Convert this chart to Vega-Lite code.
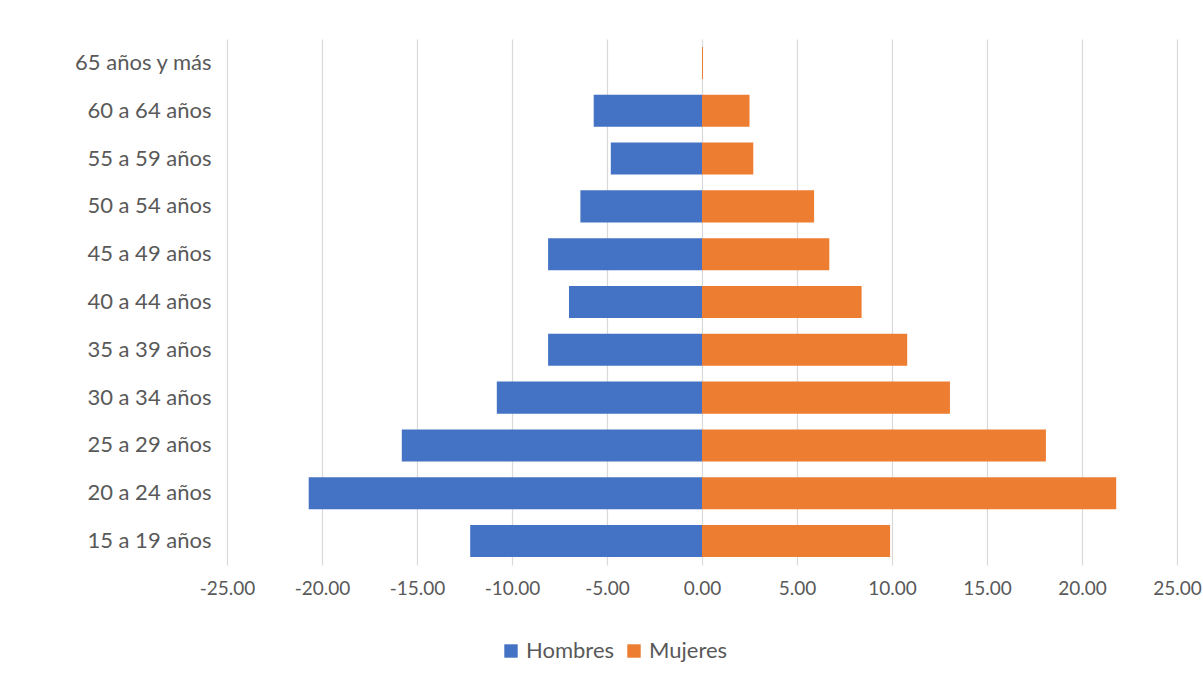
{
  "$schema": "https://vega.github.io/schema/vega-lite/v6.json",
  "width": 950,
  "height": 526,
  "autosize": {"type": "none"},
  "padding": {"left": 227, "top": 39, "right": 26, "bottom": 116},
  "background": "white",
  "data": {
    "values": [
      {"edad": "65 años y más", "sexo": "Hombres", "valor": 0},
      {"edad": "65 años y más", "sexo": "Mujeres", "valor": 0.05},
      {"edad": "60 a 64 años", "sexo": "Hombres", "valor": -5.7},
      {"edad": "60 a 64 años", "sexo": "Mujeres", "valor": 2.5},
      {"edad": "55 a 59 años", "sexo": "Hombres", "valor": -4.8},
      {"edad": "55 a 59 años", "sexo": "Mujeres", "valor": 2.7},
      {"edad": "50 a 54 años", "sexo": "Hombres", "valor": -6.4},
      {"edad": "50 a 54 años", "sexo": "Mujeres", "valor": 5.9},
      {"edad": "45 a 49 años", "sexo": "Hombres", "valor": -8.1},
      {"edad": "45 a 49 años", "sexo": "Mujeres", "valor": 6.7},
      {"edad": "40 a 44 años", "sexo": "Hombres", "valor": -7.0},
      {"edad": "40 a 44 años", "sexo": "Mujeres", "valor": 8.4},
      {"edad": "35 a 39 años", "sexo": "Hombres", "valor": -8.1},
      {"edad": "35 a 39 años", "sexo": "Mujeres", "valor": 10.8},
      {"edad": "30 a 34 años", "sexo": "Hombres", "valor": -10.8},
      {"edad": "30 a 34 años", "sexo": "Mujeres", "valor": 13.05},
      {"edad": "25 a 29 años", "sexo": "Hombres", "valor": -15.8},
      {"edad": "25 a 29 años", "sexo": "Mujeres", "valor": 18.1},
      {"edad": "20 a 24 años", "sexo": "Hombres", "valor": -20.7},
      {"edad": "20 a 24 años", "sexo": "Mujeres", "valor": 21.8},
      {"edad": "15 a 19 años", "sexo": "Hombres", "valor": -12.2},
      {"edad": "15 a 19 años", "sexo": "Mujeres", "valor": 9.9}
    ]
  },
  "mark": {"type": "bar"},
  "encoding": {
    "y": {
      "field": "edad",
      "type": "nominal",
      "sort": ["65 años y más", "60 a 64 años", "55 a 59 años", "50 a 54 años", "45 a 49 años", "40 a 44 años", "35 a 39 años", "30 a 34 años", "25 a 29 años", "20 a 24 años", "15 a 19 años"],
      "scale": {"paddingInner": 0.33, "paddingOuter": 0.165},
      "axis": {"title": null, "domain": false, "ticks": false, "labelPadding": 16, "labelFontSize": 22, "labelColor": "#595959", "labelFont": "Lato", "grid": false}
    },
    "x": {
      "field": "valor",
      "type": "quantitative",
      "stack": null,
      "scale": {"domain": [-25, 25], "nice": false},
      "axis": {"title": null, "values": [-25, -20, -15, -10, -5, 0, 5, 10, 15, 20, 25], "labelExpr": "(datum.value < 0 ? '-' : '') + format(abs(datum.value), '.2f')", "labelFlush": false, "labelOverlap": false, "labelBound": false, "domain": false, "ticks": false, "labelPadding": 14, "labelFontSize": 19, "labelColor": "#595959", "labelFont": "Lato", "grid": true, "gridColor": "#d9d9d9", "gridWidth": 1.2}
    },
    "color": {
      "field": "sexo",
      "type": "nominal",
      "scale": {"domain": ["Hombres", "Mujeres"], "range": ["#4472C4", "#ED7D31"]},
      "legend": {"title": null, "orient": "none", "direction": "horizontal", "legendX": 273, "legendY": 601, "symbolType": "square", "symbolSize": 180, "symbolStrokeWidth": 0, "labelFontSize": 22, "labelColor": "#595959", "labelFont": "Lato", "columnPadding": 8, "labelOffset": 4}
    }
  },
  "config": {"view": {"stroke": null}}
}
